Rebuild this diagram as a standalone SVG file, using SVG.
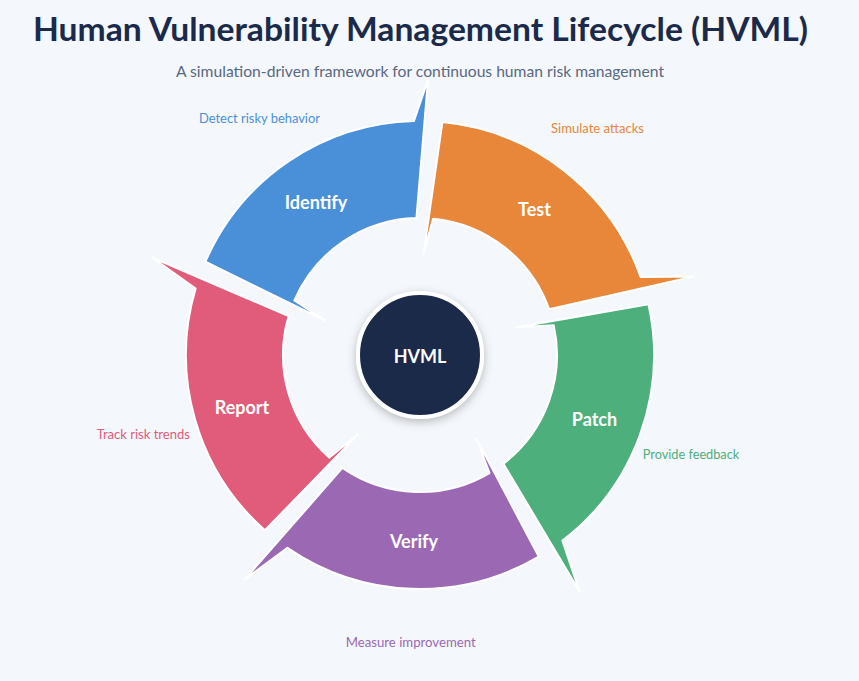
<svg xmlns="http://www.w3.org/2000/svg" width="859" height="681" viewBox="0 0 859 681">
<defs>
<style>
.seg{stroke:#ffffff;stroke-width:2;stroke-linejoin:round}
.lbl{font-family:Lato,"Liberation Sans",sans-serif;font-weight:700;font-size:18px;fill:#ffffff;text-anchor:middle}
.note{font-family:Lato,"Liberation Sans",sans-serif;font-size:13px;text-anchor:middle}
</style>
<filter id="sh" x="-30%" y="-30%" width="160%" height="160%">
<feDropShadow dx="0" dy="3" stdDeviation="5" flood-color="#000" flood-opacity="0.25"/>
</filter>
</defs>
<rect width="859" height="681" fill="#F4F7FB"/>
<text x="420.5" y="41" font-family="Lato,'Liberation Sans',sans-serif" font-weight="700" font-size="32" fill="#1B2A4A" text-anchor="middle" textLength="775" lengthAdjust="spacingAndGlyphs">Human Vulnerability Management Lifecycle (HVML)</text>
<text x="420" y="77" font-family="Lato,'Liberation Sans',sans-serif" font-size="15" fill="#5A6882" text-anchor="middle" textLength="488" lengthAdjust="spacingAndGlyphs">A simulation-driven framework for continuous human risk management</text>

<g id="connectors"></g>

<g id="test">
<path class="seg" fill="#E8863A" d="M442.43,122.08 A234,234 0 0 1 640.58,276.89 L694,276.4 L549.14,309.27 A137,137 0 0 0 433.13,218.63 L423.52,254.06 Z"/>
<text class="lbl" x="534.5" y="216">Test</text>
<text class="note" x="597.5" y="133" fill="#E8863A" textLength="93" lengthAdjust="spacingAndGlyphs">Simulate attacks</text>
</g>
<g id="patch">
<path class="seg" fill="#4DAF7C" d="M648.45,304.35 A234,234 0 0 1 562.45,540.64 L579.4,591.3 L503.4,463.69 A137,137 0 0 0 553.75,325.35 L517.09,327.16 Z"/>
<text class="lbl" x="594.5" y="426">Patch</text>
<text class="note" x="691" y="458.5" fill="#4DAF7C" textLength="96.5" lengthAdjust="spacingAndGlyphs">Provide feedback</text>
</g>
<g id="verify">
<path class="seg" fill="#9B69B4" d="M538.76,556.62 A234,234 0 0 1 287.46,547.85 L244.54,579.59 L342.4,467.91 A137,137 0 0 0 489.53,473.04 L476.48,438.73 Z"/>
<text class="lbl" x="414" y="548">Verify</text>
<text class="note" x="410.7" y="647" fill="#9B69B4" textLength="130" lengthAdjust="spacingAndGlyphs">Measure improvement</text>
</g>
<g id="report">
<path class="seg" fill="#E05C7A" d="M264.95,530.26 A234,234 0 0 1 195.64,288.54 L152.19,257.53 L288.64,316.09 A137,137 0 0 0 329.22,457.61 L357.82,434.59 Z"/>
<text class="lbl" x="242" y="414">Report</text>
<text class="note" x="143.3" y="438.5" fill="#E05C7A" textLength="93.3" lengthAdjust="spacingAndGlyphs">Track risk trends</text>
</g>
<g id="identify">
<path class="seg" fill="#4A90D9" d="M205.41,261.69 A234,234 0 0 1 413.87,121.08 L428,80 L416.41,218.05 A137,137 0 0 0 294.36,300.37 L325.09,320.46 Z"/>
<text class="lbl" x="316" y="209">Identify</text>
<text class="note" x="259.5" y="122.5" fill="#4A90D9" textLength="121" lengthAdjust="spacingAndGlyphs">Detect risky behavior</text>
</g>
<g id="hvml">
<circle cx="420" cy="355" r="62" fill="#1B2A4A" stroke="#ffffff" stroke-width="4" filter="url(#sh)"/>
<text class="lbl" x="420" y="362.5" font-size="17">HVML</text>
</g>
</svg>
